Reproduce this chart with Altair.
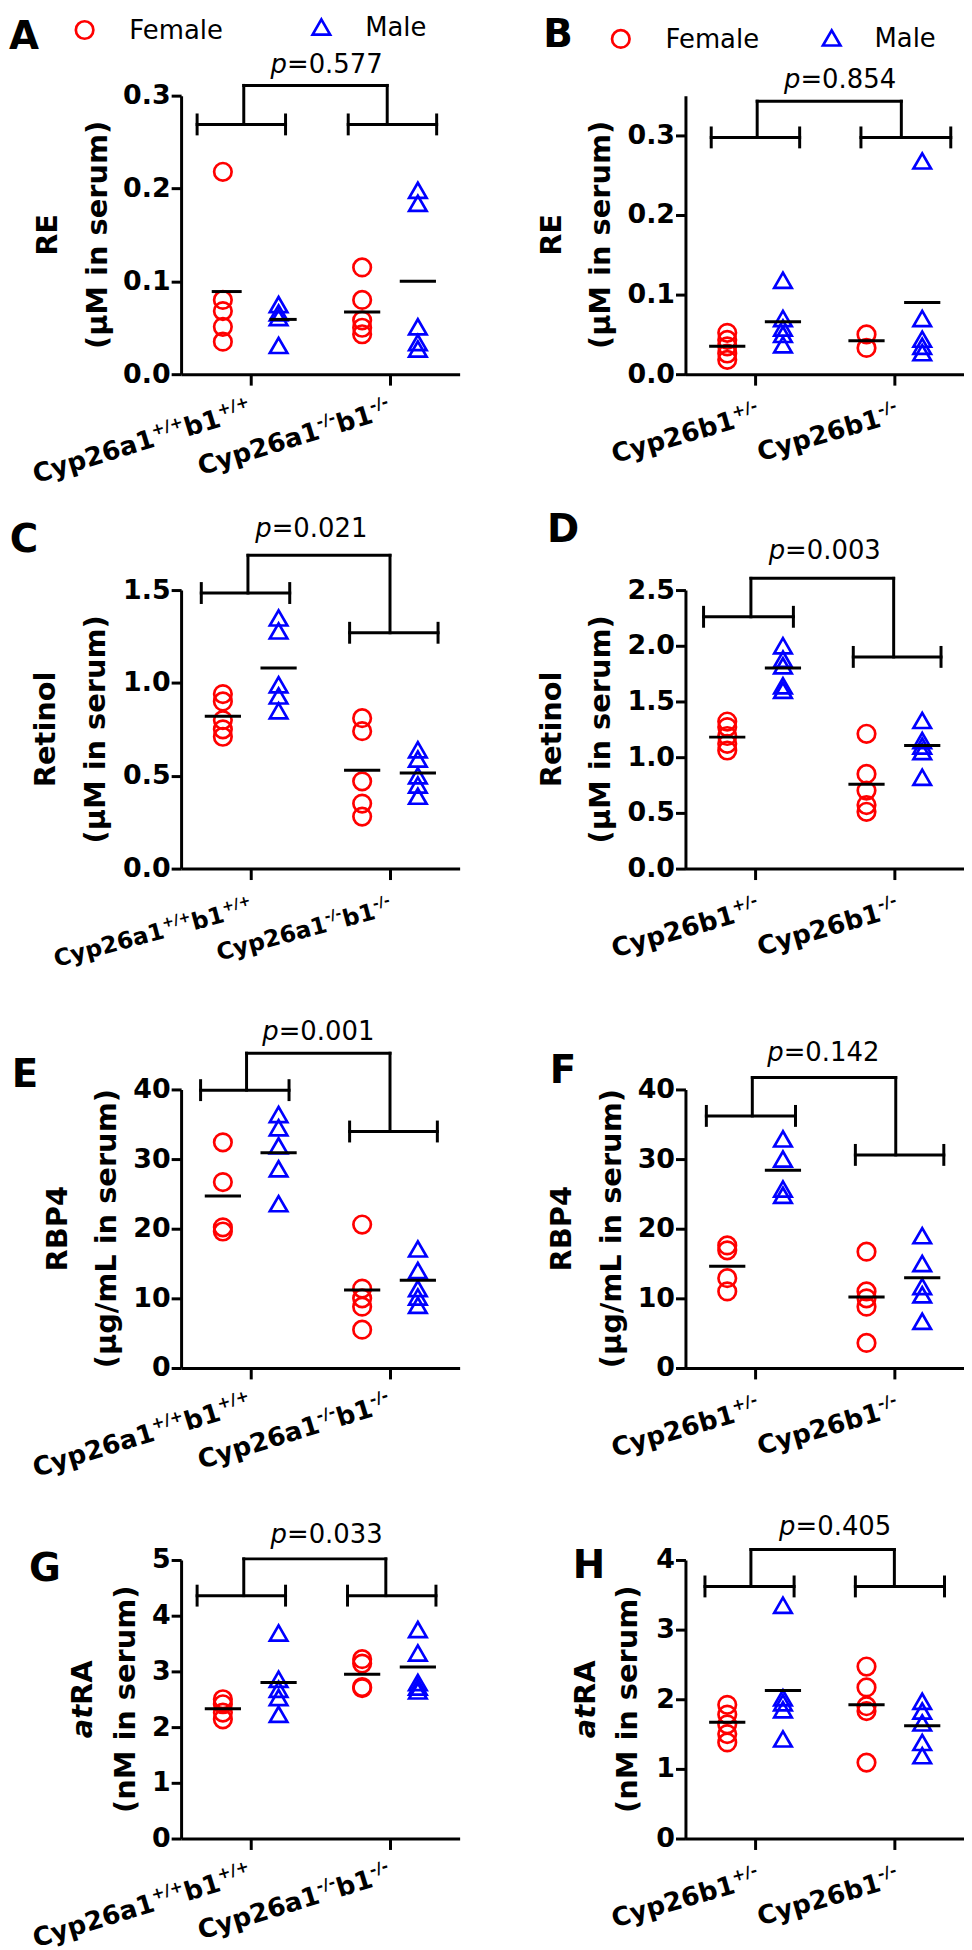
import altair as alt
import pandas as pd

FONT = "DejaVu Sans"
RED = "#ff0000"
BLUE = "#0000ff"
BLACK = "#000000"

PLOT_W = 280
PLOT_H = 280

# x layout: genotype categories at 1 and 3, female / male columns either side
CATEGORY_X = [1, 3]
GROUP_X = [0.6, 1.4, 2.6, 3.4]
GROUP_SEX = ["Female", "Male", "Female", "Male"]

# x-axis labels: alternating main text / superscript
LABELS_A1B1 = [["Cyp26a1", "+/+", "b1", "+/+"], ["Cyp26a1", "-/-", "b1", "-/-"]]
LABELS_B1 = [["Cyp26b1", "+/-"], ["Cyp26b1", "-/-"]]

# ---------------- Panel A : RE, Cyp26a1/b1 ----------------
A_female_wt = [0.218, 0.080, 0.068, 0.051, 0.035]
A_male_wt = [0.075, 0.066, 0.061, 0.031]
A_female_ko = [0.115, 0.080, 0.058, 0.050, 0.043]
A_male_ko = [0.198, 0.184, 0.051, 0.034, 0.027]
A_means = [0.089, 0.059, 0.067, 0.100]
A_bracket = [0.23, 1.50, 2.40, 3.67, 0.90, 2.96, 0.269, 0.269, 0.311]
A_p = "0.577"

# ---------------- Panel B : RE, Cyp26b1 ----------------
B_female_het = [0.052, 0.043, 0.035, 0.026, 0.018]
B_male_het = [0.118, 0.070, 0.058, 0.050, 0.037]
B_female_ko = [0.050, 0.033]
B_male_ko = [0.268, 0.070, 0.044, 0.035, 0.027]
B_means = [0.035, 0.066, 0.042, 0.090]
B_bracket = [0.37, 1.64, 2.52, 3.81, 1.03, 3.10, 0.2975, 0.2975, 0.343]
B_p = "0.854"

# ---------------- Panel C : Retinol, Cyp26a1/b1 ----------------
C_female_wt = [0.94, 0.90, 0.80, 0.75, 0.71]
C_male_wt = [1.35, 1.28, 0.99, 0.93, 0.85]
C_female_ko = [0.81, 0.74, 0.47, 0.35, 0.28]
C_male_ko = [0.64, 0.59, 0.50, 0.45, 0.39]
C_means = [0.82, 1.08, 0.53, 0.515]
C_bracket = [0.29, 1.56, 2.42, 3.69, 0.96, 3.00, 1.484, 1.27, 1.687]
C_p = "0.021"

# ---------------- Panel D : Retinol, Cyp26b1 ----------------
D_female_het = [1.32, 1.27, 1.19, 1.12, 1.06]
D_male_het = [2.00, 1.88, 1.82, 1.64, 1.60]
D_female_ko = [1.21, 0.85, 0.70, 0.57, 0.51]
D_male_ko = [1.33, 1.15, 1.10, 1.05, 0.82]
D_means = [1.18, 1.80, 0.756, 1.105]
D_bracket = [0.26, 1.55, 2.41, 3.67, 0.94, 2.99, 2.26, 1.90, 2.605]
D_p = "0.003"

# ---------------- Panel E : RBP4, Cyp26a1/b1 ----------------
E_female_wt = [32.4, 26.7, 20.2, 19.6]
E_male_wt = [36.4, 34.5, 31.9, 28.6, 23.6]
E_female_ko = [20.6, 11.4, 10.0, 8.8, 5.5]
E_male_ko = [17.1, 14.0, 11.4, 10.2, 9.0]
E_means = [24.7, 30.9, 11.2, 12.6]
E_bracket = [0.28, 1.55, 2.42, 3.68, 0.94, 3.00, 39.9, 33.96, 45.2]
E_p = "0.001"

# ---------------- Panel F : RBP4, Cyp26b1 ----------------
F_female_het = [17.6, 16.9, 12.9, 11.0]
F_male_het = [32.9, 30.0, 25.7, 24.8]
F_female_ko = [16.7, 11.0, 10.0, 8.8, 3.6]
F_male_ko = [19.0, 15.0, 11.7, 10.5, 6.7]
F_means = [14.6, 28.4, 10.2, 12.95]
F_bracket = [0.30, 1.58, 2.44, 3.71, 0.96, 3.02, 36.2, 30.6, 41.7]
F_p = "0.142"

# ---------------- Panel G : atRA, Cyp26a1/b1 ----------------
G_female_wt = [2.50, 2.41, 2.26, 2.14]
G_male_wt = [3.69, 2.86, 2.68, 2.53, 2.23]
G_female_ko = [3.22, 3.14, 2.72, 2.70]
G_male_ko = [3.75, 3.33, 2.80, 2.72, 2.65]
G_means = [2.33, 2.80, 2.95, 3.08]
G_bracket = [0.23, 1.50, 2.39, 3.66, 0.90, 2.94, 4.36, 4.36, 5.02]
G_p = "0.033"

# ---------------- Panel H : atRA, Cyp26b1 ----------------
H_female_het = [1.92, 1.78, 1.64, 1.50, 1.38]
H_male_het = [3.35, 2.02, 1.95, 1.85, 1.43]
H_female_ko = [2.47, 2.17, 1.90, 1.83, 1.09]
H_male_ko = [1.97, 1.83, 1.66, 1.38, 1.19]
H_means = [1.67, 2.125, 1.92, 1.62]
H_bracket = [0.28, 1.56, 2.44, 3.72, 0.94, 3.00, 3.62, 3.62, 4.15]
H_p = "0.405"

# ---------------- styling / layout constants ----------------
POINT_SIZE = 310
POINT_STROKE = 2.7
LINE_W = 3
CAP_HALF_PX = 9.5
TICK_FS = 27
TITLE_FS = 29
LETTER_FS = 39
P_FS = 26
LEG_FS = 26
COL_SPACING = 227
ROW_SPACING = 193
ROW_TOP_PAD = [0, 24, 29, 0]   # extra room above each row's plot area

# rotated x-label styles: angle, main size, superscript size, raise, end offset, baseline offset
XL_WIDE = dict(angle=343, fs=26, sup=16, raise_=11, end=-10, dy=41.6)
XL_SMALL = dict(angle=345, fs=23.4, sup=14.4, raise_=10, end=-8.7, dy=45)
XL_SHORT = dict(angle=344, fs=26, sup=16, raise_=11, end=-7, dy=47)

BOLD_W = {"C": .734, "y": .652, "p": .716, "2": .696, "6": .696, "a": .675, "1": .696,
          "b": .716, "+": .838, "/": .365, "-": .415, "t": .478, "R": .770, "A": .774}
REG_W = {"p": .635, "=": .838, ".": .318}
REG_W.update({d: .636 for d in "0123456789"})


def text_w(s, table, size):
    return sum(table.get(c, 0.65) for c in s) * size


CENTERED = [(-0.26, 0.26)] * 4

PANELS = [
    dict(letter="A", title=[[("RE", "normal")], "(μM in serum)"], ymax=0.3,
         ticks=[0, 0.1, 0.2, 0.3], fmt=".1f",
         groups=[A_female_wt, A_male_wt, A_female_ko, A_male_ko], means=A_means,
         mean_off=[(-0.16, 0.27), (-0.13, 0.26), (-0.26, 0.26), (-0.26, 0.26)],
         bracket=A_bracket, p=A_p, p_xy=(2.09, 0.333), labels=LABELS_A1B1, xl=XL_WIDE,
         letter_xy=(-158, -58.5), title_x=(-133.5, -83.5),
         legend=[(-97, -66, -52, -65), (141, -69, 185, -68)]),
    dict(letter="B", title=[[("RE", "normal")], "(μM in serum)"], ymax=0.35,
         ticks=[0, 0.1, 0.2, 0.3], fmt=".1f",
         groups=[B_female_het, B_male_het, B_female_ko, B_male_ko], means=B_means,
         mean_off=CENTERED, bracket=B_bracket, p=B_p, p_xy=(2.22, 0.370),
         labels=LABELS_B1, xl=XL_SHORT, letter_xy=(-128, -60.5), title_x=(-134.5, -84.5),
         legend=[(-65, -57, -20, -55.5), (147, -58, 190, -56.5)]),
    dict(letter="C", title=[[("Retinol", "normal")], "(μM in serum)"], ymax=1.5,
         ticks=[0, 0.5, 1.0, 1.5], fmt=".1f",
         groups=[C_female_wt, C_male_wt, C_female_ko, C_male_ko], means=C_means,
         mean_off=CENTERED, bracket=C_bracket, p=C_p, p_xy=(1.87, 1.828),
         labels=LABELS_A1B1, xl=XL_SMALL, letter_xy=(-158, -50.5), title_x=(-135.5, -85.5), legend=None),
    dict(letter="D", title=[[("Retinol", "normal")], "(μM in serum)"], ymax=2.5,
         ticks=[0, 0.5, 1.0, 1.5, 2.0, 2.5], fmt=".1f",
         groups=[D_female_het, D_male_het, D_female_ko, D_male_ko], means=D_means,
         mean_off=CENTERED, bracket=D_bracket, p=D_p, p_xy=(2.0, 2.851),
         labels=LABELS_B1, xl=XL_SHORT, letter_xy=(-123, -60.5), title_x=(-134.5, -84.5), legend=None),
    dict(letter="E", title=[[("RBP4", "normal")], "(μg/mL in serum)"], ymax=40,
         ticks=[0, 10, 20, 30, 40], fmt="d",
         groups=[E_female_wt, E_male_wt, E_female_ko, E_male_ko], means=E_means,
         mean_off=CENTERED, bracket=E_bracket, p=E_p, p_xy=(1.97, 48.3),
         labels=LABELS_A1B1, xl=XL_WIDE, letter_xy=(-157, -14.5), title_x=(-123.5, -74.5), legend=None),
    dict(letter="F", title=[[("RBP4", "normal")], "(μg/mL in serum)"], ymax=40,
         ticks=[0, 10, 20, 30, 40], fmt="d",
         groups=[F_female_het, F_male_het, F_female_ko, F_male_ko], means=F_means,
         mean_off=CENTERED, bracket=F_bracket, p=F_p, p_xy=(1.98, 45.2),
         labels=LABELS_B1, xl=XL_SHORT, letter_xy=(-123, -18.5), title_x=(-124.5, -73.5), legend=None),
    dict(letter="G", title=[[("at", "italic"), ("RA", "normal")], "(nM in serum)"], ymax=5,
         ticks=[0, 1, 2, 3, 4, 5], fmt="d",
         groups=[G_female_wt, G_male_wt, G_female_ko, G_male_ko], means=G_means,
         mean_off=CENTERED, bracket=G_bracket, p=G_p, p_xy=(2.09, 5.44),
         labels=LABELS_A1B1, xl=XL_WIDE, letter_xy=(-137, 9.5), title_x=(-98.5, -55.5), legend=None),
    dict(letter="H", title=[[("at", "italic"), ("RA", "normal")], "(nM in serum)"], ymax=4,
         ticks=[0, 1, 2, 3, 4], fmt="d",
         groups=[H_female_het, H_male_het, H_female_ko, H_male_ko], means=H_means,
         mean_off=CENTERED, bracket=H_bracket, p=H_p, p_xy=(2.15, 4.47),
         labels=LABELS_B1, xl=XL_SHORT, letter_xy=(-97, 6.5), title_x=(-99.5, -57.5), legend=None),
]

ONE = pd.DataFrame({"k": [0]})


def make_panel(cfg, pad):
    ymax = cfg["ymax"]
    height = PLOT_H + pad
    xs = alt.Scale(domain=[0, 4], nice=False, zero=False)
    ys = alt.Scale(domain=[0, ymax], nice=False, zero=True, range=[height, pad])
    px_per_unit = PLOT_H / ymax

    xaxis = alt.Axis(values=CATEGORY_X, labels=False, title=None, grid=False,
                     tickSize=11, tickWidth=LINE_W, tickColor=BLACK,
                     domainColor=BLACK, domainWidth=LINE_W)
    yaxis = alt.Axis(values=cfg["ticks"], format=cfg["fmt"], title=None, grid=False,
                     tickSize=10, tickWidth=LINE_W, tickColor=BLACK,
                     domainColor=BLACK, domainWidth=LINE_W,
                     labelFont=FONT, labelFontSize=TICK_FS, labelFontWeight="bold",
                     labelColor=BLACK, labelPadding=1, labelOverlap=False)

    def X(f):
        return alt.X(f, type="quantitative", scale=xs, axis=xaxis)

    def Y(f):
        return alt.Y(f, type="quantitative", scale=ys, axis=yaxis)

    rows = []
    for gx, sex, vals in zip(GROUP_X, GROUP_SEX, cfg["groups"]):
        for v in vals:
            rows.append({"x": gx, "v": v, "sex": sex})
    pts = pd.DataFrame(rows)

    layers = []
    points = alt.Chart(pts).mark_point(filled=False, strokeWidth=POINT_STROKE, size=POINT_SIZE, opacity=1).encode(
        x=X("x"), y=Y("v"),
        shape=alt.Shape("sex:N", scale=alt.Scale(domain=["Female", "Male"], range=["circle", "triangle-up"]), legend=None),
        color=alt.Color("sex:N", scale=alt.Scale(domain=["Female", "Male"], range=[RED, BLUE]), legend=None),
    )
    layers.append(points)

    # mean lines
    mdf = pd.DataFrame({
        "x1": [gx + off[0] for gx, off in zip(GROUP_X, cfg["mean_off"])],
        "x2": [gx + off[1] for gx, off in zip(GROUP_X, cfg["mean_off"])],
        "y": cfg["means"],
    })
    layers.append(alt.Chart(mdf).mark_rule(color=BLACK, strokeWidth=LINE_W).encode(
        x=X("x1"), x2="x2:Q", y=Y("y")))

    # significance bracket
    L1, L2, R1, R2, CL, CR, yl, yr, top = cfg["bracket"]
    cap = CAP_HALF_PX / px_per_unit
    segs = [
        (L1, L2, yl, yl), (R1, R2, yr, yr),
        (L1, L1, yl - cap, yl + cap), (L2, L2, yl - cap, yl + cap),
        (R1, R1, yr - cap, yr + cap), (R2, R2, yr - cap, yr + cap),
        (CL, CL, yl, top), (CR, CR, yr, top), (CL, CR, top, top),
    ]
    bdf = pd.DataFrame(segs, columns=["x", "x2", "y", "y2"])
    layers.append(alt.Chart(bdf).mark_rule(color=BLACK, strokeWidth=LINE_W, strokeCap="square").encode(
        x=X("x"), x2="x2:Q", y=Y("y"), y2="y2:Q"))

    # p value
    pdf = pd.DataFrame({"x": [cfg["p_xy"][0]], "y": [cfg["p_xy"][1]]})
    w_p = text_w("p", REG_W, P_FS)
    w_rest = text_w("=" + cfg["p"], REG_W, P_FS)
    split = -(w_p + w_rest) / 2 + w_p
    layers.append(alt.Chart(pdf).mark_text(text="p", font=FONT, fontSize=P_FS, fontStyle="italic",
                                           align="right", baseline="middle", dx=split, color=BLACK).encode(
        x=X("x"), y=Y("y")))
    layers.append(alt.Chart(pdf).mark_text(text="=" + cfg["p"], font=FONT, fontSize=P_FS,
                                           align="left", baseline="middle", dx=split, color=BLACK).encode(
        x=X("x"), y=Y("y")))

    # panel letter
    lx, ly = cfg["letter_xy"]
    layers.append(alt.Chart(ONE).mark_text(text=cfg["letter"], font=FONT, fontSize=LETTER_FS, fontWeight="bold",
                                           align="center", baseline="middle", color=BLACK).encode(
        x=alt.value(lx), y=alt.value(ly + pad)))

    # y title (two lines as rotated text)
    line1, line2 = cfg["title"]
    t1x, t2x = cfg["title_x"]
    mid = pad + PLOT_H / 2
    if len(line1) == 1:
        layers.append(alt.Chart(ONE).mark_text(text=line1[0][0], font=FONT, fontSize=TITLE_FS, fontWeight="bold",
                                               angle=270, align="center", baseline="middle", color=BLACK).encode(
            x=alt.value(t1x), y=alt.value(mid)))
    else:
        widths = [text_w(s, BOLD_W, TITLE_FS) for s, _ in line1]
        cur = -sum(widths) / 2
        for (s, style), w in zip(line1, widths):
            layers.append(alt.Chart(ONE).mark_text(text=s, font=FONT, fontSize=TITLE_FS, fontWeight="bold",
                                                   fontStyle=style, angle=270, align="left", baseline="middle",
                                                   dx=cur, color=BLACK).encode(
                x=alt.value(t1x), y=alt.value(mid)))
            cur += w
    layers.append(alt.Chart(ONE).mark_text(text=line2, font=FONT, fontSize=TITLE_FS, fontWeight="bold",
                                           angle=270, align="center", baseline="middle", color=BLACK).encode(
        x=alt.value(t2x), y=alt.value(mid)))

    # x labels with superscripts
    st = cfg["xl"]
    for cat_x, parts in zip(CATEGORY_X, cfg["labels"]):
        sizes = [st["sup"] if i % 2 else st["fs"] for i in range(len(parts))]
        widths = [text_w(s, BOLD_W, fs) for s, fs in zip(parts, sizes)]
        cur = st["end"] - sum(widths)
        ldf = pd.DataFrame({"x": [cat_x], "y": [0]})
        for i, (s, fs, w) in enumerate(zip(parts, sizes, widths)):
            dy = st["dy"] - (st["raise_"] if i % 2 else 0)
            layers.append(alt.Chart(ldf).mark_text(text=s, font=FONT, fontSize=fs, fontWeight="bold",
                                                   angle=st["angle"], align="left", baseline="alphabetic",
                                                   dx=cur, dy=dy, color=BLACK).encode(
                x=X("x"), y=Y("y")))
            cur += w

    # legend
    if cfg["legend"]:
        (cx, cy, ftx, fty), (tx, ty, mtx, mty) = cfg["legend"]
        layers.append(alt.Chart(ONE).mark_point(shape="circle", filled=False, color=RED,
                                                strokeWidth=POINT_STROKE, size=POINT_SIZE, opacity=1).encode(
            x=alt.value(cx), y=alt.value(cy + pad)))
        layers.append(alt.Chart(ONE).mark_text(text="Female", font=FONT, fontSize=LEG_FS, align="left",
                                               baseline="middle", color=BLACK).encode(
            x=alt.value(ftx), y=alt.value(fty + pad)))
        layers.append(alt.Chart(ONE).mark_point(shape="triangle-up", filled=False, color=BLUE,
                                                strokeWidth=POINT_STROKE, size=POINT_SIZE, opacity=1).encode(
            x=alt.value(tx), y=alt.value(ty + pad)))
        layers.append(alt.Chart(ONE).mark_text(text="Male", font=FONT, fontSize=LEG_FS, align="left",
                                               baseline="middle", color=BLACK).encode(
            x=alt.value(mtx), y=alt.value(mty + pad)))

    return alt.layer(*layers).properties(width=PLOT_W, height=height)


P = [make_panel(c, ROW_TOP_PAD[i // 2]) for i, c in enumerate(PANELS)]
chart = alt.concat(*P, columns=2, spacing={"row": ROW_SPACING, "column": COL_SPACING},
                   bounds="flush").properties(padding=0).configure_view(stroke=None)

chart.save("out.html", embed_options={"renderer": "svg", "actions": False})
